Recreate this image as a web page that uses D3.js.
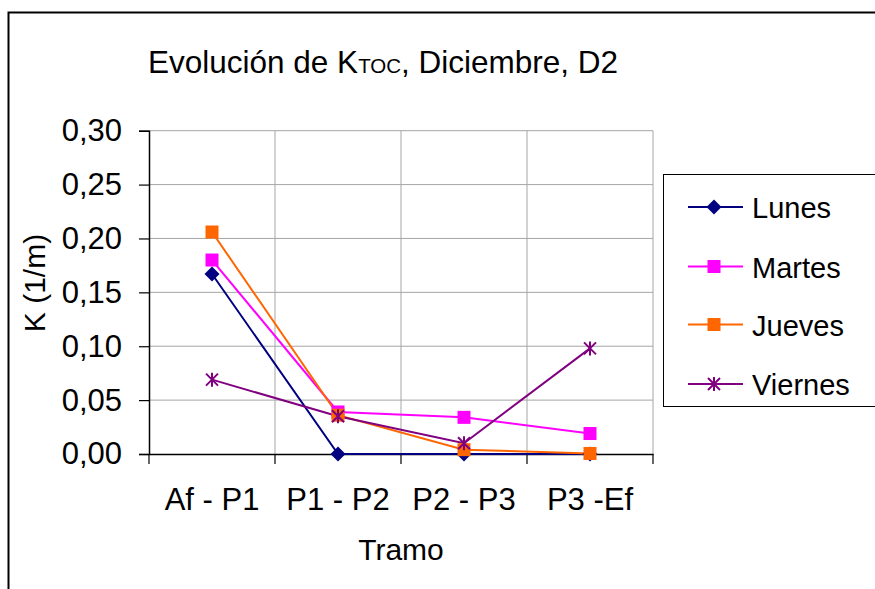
<!DOCTYPE html>
<html>
<head>
<meta charset="utf-8">
<script src="https://cdn.jsdelivr.net/npm/d3@7"></script>
<style>
  body { margin: 0; background: #fff; }
  text { font-family: "Liberation Sans", Arial, sans-serif; fill: #000; }
</style>
</head>
<body>
<script>
const width = 875;
const height = 589;

// data
const tramos = ["Af - P1", "P1 - P2", "P2 - P3", "P3 -Ef"];
const lunes = [0.167, 0.0, 0.0, 0.0];
const martes = [0.180, 0.039, 0.034, 0.019];
const jueves = [0.206, 0.036, 0.004, 0.0005];
const viernes = [0.069, 0.035, 0.010, 0.098];
const yTicks = [0, 0.05, 0.10, 0.15, 0.20, 0.25, 0.30];

const series = [
  {name: "Lunes", values: lunes, color: "#000080", symbol: "diamond"},
  {name: "Martes", values: martes, color: "#ff00ff", symbol: "square"},
  {name: "Jueves", values: jueves, color: "#ff6600", symbol: "square"},
  {name: "Viernes", values: viernes, color: "#800080", symbol: "star"}
];

const plot = {left: 149, right: 653, top: 130.7, bottom: 454};

const svg = d3.select("body").append("svg")
  .attr("width", width)
  .attr("height", height);

// outer chart frame
svg.append("rect")
  .attr("x", 8.5).attr("y", 12.5)
  .attr("width", 900).attr("height", 600)
  .attr("fill", "#fff")
  .attr("stroke", "#000").attr("stroke-width", 2);

const x = d3.scaleBand().domain(tramos).range([plot.left, plot.right]);
const y = d3.scaleLinear().domain([0, 0.30]).range([plot.bottom, plot.top]);

// gridlines
const grid = svg.append("g").attr("stroke", "#a6a6a6").attr("stroke-width", 1);
grid.selectAll(".hg").data(yTicks.slice(1))
  .enter().append("line")
  .attr("x1", plot.left).attr("x2", plot.right)
  .attr("y1", d => y(d)).attr("y2", d => y(d));
grid.selectAll(".vg").data(tramos)
  .enter().append("line")
  .attr("x1", d => x(d) + x.bandwidth()).attr("x2", d => x(d) + x.bandwidth())
  .attr("y1", plot.top).attr("y2", plot.bottom);

// y axis
const fmt = d => d3.format(".2f")(d).replace(".", ",");
const yaxis = svg.append("g")
  .attr("transform", `translate(${plot.left},0)`)
  .call(d3.axisLeft(y).tickValues(yTicks).tickFormat(fmt).tickSize(10).tickPadding(17));
yaxis.select(".domain").attr("stroke", "#000").attr("stroke-width", 1.5);
yaxis.selectAll(".tick line").attr("stroke-width", 1.2);
yaxis.selectAll("text").style("font-size", "31px").attr("font-family", null);

// x axis
const xaxis = svg.append("g")
  .attr("transform", `translate(0,${plot.bottom})`)
  .call(d3.axisBottom(x).tickSize(0).tickPadding(34));
xaxis.select(".domain").attr("stroke", "#000").attr("stroke-width", 1.5);
xaxis.selectAll("text").style("font-size", "31px").attr("font-family", null);
svg.append("g").selectAll("line")
  .data([tramos[0]].concat(tramos))
  .enter().append("line")
  .attr("x1", (d, i) => i === 0 ? plot.left : x(d) + x.bandwidth())
  .attr("x2", (d, i) => i === 0 ? plot.left : x(d) + x.bandwidth())
  .attr("y1", plot.bottom).attr("y2", plot.bottom + 10)
  .attr("stroke", "#000").attr("stroke-width", 1.2);

// marker drawing
function marker(g, symbol, color) {
  if (symbol === "diamond") {
    g.append("path").attr("d", "M0,-7.5L7.5,0L0,7.5L-7.5,0Z").attr("fill", color);
  } else if (symbol === "square") {
    g.append("rect").attr("x", -6.5).attr("y", -6.5).attr("width", 13).attr("height", 13).attr("fill", color);
  } else {
    g.append("path").attr("d", "M-6,-6L6,6M-6,6L6,-6M0,-7L0,7")
      .attr("stroke", color).attr("stroke-width", 2).attr("fill", "none");
  }
}

const line = d3.line()
  .x((d, i) => x(tramos[i]) + x.bandwidth() / 2)
  .y(d => y(d));

series.forEach(s => {
  svg.append("path")
    .datum(s.values)
    .attr("d", line)
    .attr("fill", "none")
    .attr("stroke", s.color)
    .attr("stroke-width", 2);
});
series.forEach(s => {
  s.values.forEach((v, i) => {
    const g = svg.append("g")
      .attr("transform", `translate(${x(tramos[i]) + x.bandwidth() / 2},${y(v)})`);
    marker(g, s.symbol, s.color);
  });
});

// title
const title = svg.append("text")
  .attr("x", 148).attr("y", 73)
  .style("font-size", "31.5px");
title.append("tspan").text("Evolución de K");
title.append("tspan").style("font-size", "20.5px").text("TOC");
title.append("tspan").text(", Diciembre, D2");

// axis titles
svg.append("text")
  .attr("transform", "translate(45,283) rotate(-90)")
  .attr("text-anchor", "middle")
  .style("font-size", "30px")
  .text("K (1/m)");
svg.append("text")
  .attr("x", 401).attr("y", 560)
  .attr("text-anchor", "middle")
  .style("font-size", "30px")
  .text("Tramo");

// legend
svg.append("rect")
  .attr("x", 663.5).attr("y", 174.5)
  .attr("width", 240).attr("height", 232)
  .attr("fill", "#fff")
  .attr("stroke", "#000").attr("stroke-width", 1);
const rowsY = [207, 266.5, 324.5, 384];
series.forEach((s, i) => {
  const g = svg.append("g").attr("transform", `translate(0,${rowsY[i]})`);
  g.append("line").attr("x1", 688).attr("x2", 743).attr("y1", 0).attr("y2", 0)
    .attr("stroke", s.color).attr("stroke-width", 2);
  const m = g.append("g").attr("transform", "translate(714,0)");
  marker(m, s.symbol, s.color);
  g.append("text").attr("x", 752).attr("y", 11)
    .style("font-size", "29px").text(s.name);
});
</script>
</body>
</html>
